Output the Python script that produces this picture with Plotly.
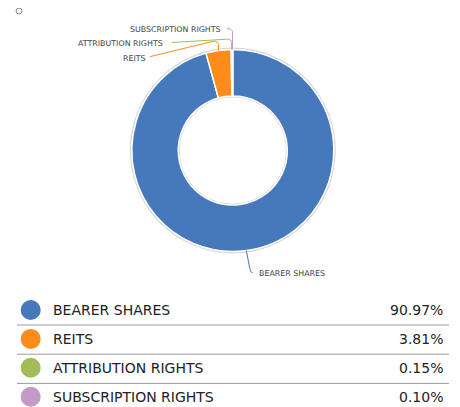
import math
import plotly.graph_objects as go

# ---- data ----
labels = ["BEARER SHARES", "REITS", "ATTRIBUTION RIGHTS", "SUBSCRIPTION RIGHTS"]
values = [90.97, 3.81, 0.15, 0.10]
colors = ["#4679BB", "#FF8C1A", "#A2BD57", "#C49AC6"]

W, H = 460, 407
OFF = 8  # page body margin: page pixel = figure pixel + OFF
CX, CY, R = 232.8, 150.5, 101.0
HOLE = 0.54
PAD = 2  # annotation inner padding compensation

fig = go.Figure()

fx, fy = CX - OFF, CY - OFF
fig.add_trace(go.Pie(
    values=values, labels=labels, sort=False, direction="clockwise", rotation=0,
    hole=HOLE, textinfo="none", showlegend=False,
    marker=dict(colors=colors, line=dict(color="white", width=1.5)),
    domain=dict(x=[(fx - R) / W, (fx + R) / W], y=[(H - fy - R) / H, (H - fy + R) / H]),
    hovertemplate="%{label}: %{value:.2f}%<extra></extra>",
))

# legend table (dots as a scatter in pixel-space axes)
ROW0, STEP = 310.0, 28.9
rows_y = [ROW0 + i * STEP for i in range(len(labels))]
fig.add_trace(go.Scatter(
    x=[30.7] * len(labels), y=rows_y, mode="markers",
    marker=dict(size=20, color=colors, line=dict(width=0)),
    showlegend=False, hoverinfo="skip",
))

shapes = []
annotations = []

# soft shadow rings around the donut
shapes.append(dict(type="circle", xref="x", yref="y", layer="below",
                   x0=CX - R - 1.2, x1=CX + R + 1.2, y0=CY - R - 1.2, y1=CY + R + 1.2,
                   line=dict(color="#d9d9d9", width=1.5)))
RI = R * HOLE
shapes.append(dict(type="circle", xref="x", yref="y", layer="below",
                   x0=CX - RI + 0.8, x1=CX + RI - 0.8, y0=CY - RI + 0.8, y1=CY + RI - 0.8,
                   line=dict(color="#d9d9d9", width=1.5)))

# leader lines computed from slice mid-angles
total = sum(values)
cum = 0.0
mids = []
for v in values:
    mids.append((cum + v / 2) / total * 2 * math.pi)
    cum += v

label_cfg = [
    dict(kind="down", end=(252.7, 272.7), text=(258.5, 273.0), anchor="left"),
    dict(kind="up", elbow=41.5, end=(150.0, 56.7), text=(145.5, 58.0), anchor="right"),
    dict(kind="up", elbow=39.5, end=(171.7, 42.5), text=(162.5, 43.8), anchor="right"),
    dict(kind="up", elbow=29.0, end=(229.3, 27.3), text=(221.0, 29.0), anchor="right"),
]

for i, (lab, ang, cfg) in enumerate(zip(labels, mids, label_cfg)):
    sx = CX + R * math.sin(ang)
    sy = CY - R * math.cos(ang)
    ex, ey = cfg["end"]
    if cfg["kind"] == "down":
        path = f"M {sx:.2f} {sy:.2f} L {sx + 3.5:.2f} {ey - 4:.2f} Q {sx + 4.2:.2f} {ey:.2f} {ex:.2f} {ey:.2f}"
    else:
        el = cfg["elbow"]
        path = (f"M {sx:.2f} {sy:.2f} L {sx:.2f} {el + 3:.2f} "
                f"Q {sx:.2f} {el:.2f} {sx - 5:.2f} {el - 0.3:.2f} L {ex:.2f} {ey:.2f}")
    shapes.append(dict(type="path", xref="x", yref="y", path=path,
                       line=dict(color=colors[i], width=1)))
    tx, ty = cfg["text"]
    tx = tx - PAD if cfg["anchor"] == "left" else tx + PAD
    annotations.append(dict(x=tx, y=ty, xref="x", yref="y", text=lab, showarrow=False,
                            xanchor=cfg["anchor"], yanchor="middle",
                            font=dict(family="DejaVu Sans", size=7.9, color="#444444")))

# table separators
for i in range(len(labels) - 1):
    yy = 325.0 + i * 29.2
    shapes.append(dict(type="line", xref="x", yref="y", x0=17, x1=449, y0=yy, y1=yy,
                       line=dict(color="#9a9a9a", width=1)))

# table text
for i, (lab, v) in enumerate(zip(labels, values)):
    annotations.append(dict(x=53 - PAD, y=rows_y[i], xref="x", yref="y", text=lab, showarrow=False,
                            xanchor="left", yanchor="middle",
                            font=dict(family="DejaVu Sans", size=14, color="#222222")))
    annotations.append(dict(x=443.5 + 1, y=rows_y[i], xref="x", yref="y", text=f"{v:.2f}%",
                            showarrow=False, xanchor="right", yanchor="middle",
                            font=dict(family="DejaVu Sans", size=14, color="#222222")))

# small hollow circle icon at top-left
shapes.append(dict(type="circle", xref="x", yref="y", x0=16, x1=22, y0=8, y1=14,
                   line=dict(color="#888888", width=1)))

fig.update_layout(
    width=W, height=H, margin=dict(l=0, r=0, t=0, b=0),
    paper_bgcolor="white", plot_bgcolor="rgba(0,0,0,0)",
    xaxis=dict(range=[OFF, OFF + W], visible=False, fixedrange=True),
    yaxis=dict(range=[OFF + H, OFF], visible=False, fixedrange=True),
    shapes=shapes, annotations=annotations,
)

fig.write_html("out.html")
